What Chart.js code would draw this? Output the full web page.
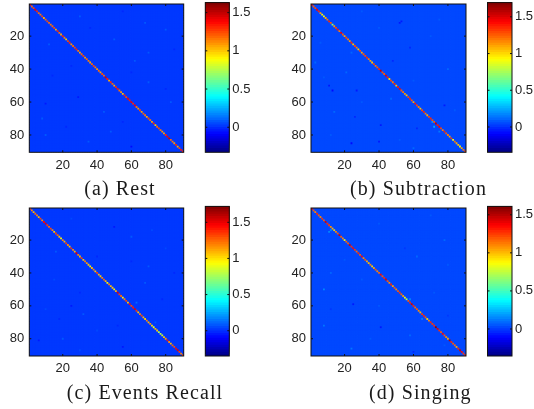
<!DOCTYPE html>
<html>
<head>
<meta charset="utf-8">
<script src="https://cdn.jsdelivr.net/npm/chart.js@4/dist/chart.umd.min.js"></script>
<style>
html, body { margin: 0; padding: 0; background: #fff; }
#page { position: relative; width: 534px; height: 409px; overflow: hidden; }
canvas { position: absolute; filter: blur(0.4px); }
.caption { position: absolute; transform: translate(-50%, -50%); white-space: nowrap;
  font-family: "Liberation Serif", serif; font-size: 20px; letter-spacing: 1.1px; color: #1a1a1a; }
</style>
</head>
<body>
<div id="page"></div>
<script>
var captions = ["(a) Rest", "(b) Subtraction", "(c) Events Recall", "(d) Singing"];
var axisTicks = [20, 40, 60, 80];
var barTicks = [0, 0.5, 1, 1.5];
var barRanges = [[-0.328, 1.631], [-0.345, 1.694], [-0.35, 1.72], [-0.355, 1.61]];
var fieldValues = [0.03, 0.04, 0.03, 0.03];

// diagonal of each matrix
var restDiag = [1.35, 1.2, 1.25, 1.4, 1.3, 1.2, 1.15, 1.25, 1.05, 1.2, 1.25, 1.2, 1.15, 1.2, 1.25, 1.05,
  1.3, 1.2, 1.05, 1.3, 1.15, 1.0, 1.25, 1.3, 1.1, 1.2, 1.25, 1.3, 1.15, 1.05, 1.2, 1.25, 1.1, 1.2, 1.15,
  1.05, 1.2, 1.25, 1.15, 1.1, 1.2, 1.05, 1.25, 1.2, 1.45, 1.35, 1.05, 1.3, 1.2, 1.05, 1.3, 1.35, 1.2, 1.1,
  1.0, 1.3, 1.25, 1.4, 1.35, 1.4, 1.3, 1.4, 1.2, 1.1, 1.25, 1.05, 1.2, 1.15, 1.05, 1.25, 1.15, 1.05, 1.3,
  1.0, 1.2, 1.25, 1.15, 1.1, 1.05, 1.3, 1.4, 1.45, 1.2, 1.15, 1.1, 1.3, 1.05, 1.25, 1.35, 1.3];
var subDiag = [1.4, 1.25, 1.3, 1.45, 1.35, 1.1, 0.95, 0.9, 1.1, 1.2, 1.35, 1.25, 0.7, 1.15, 1.3, 1.4, 1.2,
  1.45, 1.25, 1.1, 1.3, 1.2, 1.15, 1.35, 1.05, 1.3, 1.2, 1.05, 1.3, 1.1, 1.25, 1.3, 1.35, 1.2, 1.1, 1.05,
  1.3, 1.2, 1.25, 1.35, 1.55, 1.3, 1.25, 1.5, 1.4, 1.0, 1.3, 1.2, 1.35, 1.05, 1.4, 1.45, 1.25, 1.2, 1.15,
  1.05, 1.3, 1.35, 1.25, 1.1, 1.4, 1.3, 1.2, 1.05, 1.3, 1.35, 1.2, 1.1, 1.3, 1.35, 1.3, 1.25, 1.55, 1.4,
  1.45, 1.3, 1.2, 1.35, 1.25, 1.2, 1.1, 1.3, 0.95, 1.2, 1.1, 1.05, 0.95, 1.1, 1.2, 1.3];
var recallDiag = [1.3, 1.2, 1.1, 1.25, 1.2, 1.1, 1.3, 1.2, 1.45, 1.5, 1.35, 1.25, 1.3, 1.2, 1.05, 1.3, 1.25,
  1.1, 0.95, 1.2, 1.1, 1.3, 1.2, 1.05, 1.35, 1.2, 1.1, 1.5, 1.2, 1.1, 1.3, 1.05, 1.2, 1.15, 1.05, 0.95, 1.1,
  1.2, 1.05, 1.3, 1.1, 1.05, 1.2, 1.25, 1.1, 0.95, 1.2, 1.1, 1.05, 0.95, 1.1, 1.5, 1.35, 1.25, 0.95, 1.2,
  1.3, 1.05, 1.45, 1.3, 1.4, 1.5, 1.35, 1.05, 1.2, 1.3, 1.1, 1.05, 1.2, 1.1, 1.15, 1.0, 0.9, 1.1, 1.05, 0.8,
  0.8, 0.85, 1.05, 1.15, 1.4, 1.2, 1.1, 1.25, 1.3, 1.45, 1.5, 1.35, 1.2, 1.3];
var singDiag = [1.35, 1.2, 1.1, 1.3, 1.2, 1.1, 1.25, 1.2, 1.45, 1.3, 1.25, 1.1, 1.0, 0.95, 1.1, 1.2, 1.45,
  1.2, 1.1, 0.9, 1.15, 1.2, 1.45, 1.3, 1.35, 1.25, 1.15, 1.3, 1.2, 1.35, 1.1, 1.2, 1.05, 1.0, 1.1, 0.95, 1.05,
  1.2, 1.1, 1.15, 1.35, 1.2, 1.3, 1.4, 1.2, 1.1, 1.3, 1.05, 1.2, 1.1, 1.2, 1.25, 1.15, 1.05, 0.9, 0.75, 1.2,
  1.3, 1.45, 1.3, 1.15, 1.2, 1.1, 1.0, 1.25, 1.3, 1.2, 0.95, 1.1, 1.3, 1.25, 1.3, 1.55, 1.4, 1.3, 1.2, 1.35,
  1.2, 1.1, 1.05, 1.5, 1.3, 1.2, 1.15, 1.05, 1.3, 1.45, 1.35, 1.25, 1.3];

// off-diagonal spots that stand out: [row, col, value]
var restSpots = [[61, 10, -0.05], [57, 29, -0.05], [87, 60, -0.06], [44, 14, -0.01], [75, 22, -0.02], [30, 70, 0.08],
  [12, 68, 0.08], [22, 50, 0.07], [52, 80, -0.02], [66, 44, 0.08], [15, 36, -0.01], [80, 10, 0.08], [35, 62, 0.08],
  [8, 30, 0.07], [5, 55, -0.01], [25, 12, 0.07], [38, 25, -0.01], [48, 70, 0.07], [72, 55, -0.01], [84, 35, 0.08],
  [70, 8, 0.07], [28, 85, -0.01], [60, 83, 0.07], [42, 60, -0.01], [16, 80, 0.07], [78, 48, 0.07]];
var subSpots = [[50, 11, -0.05], [53, 13, -0.06], [85, 24, -0.06], [74, 41, -0.05], [12, 52, -0.05], [11, 53, -0.05],
  [36, 3, 0.11], [72, 71, 0.2], [75, 72, 0.24], [78, 75, 0.16], [58, 47, 0.12], [62, 78, -0.04], [30, 24, 0.11],
  [42, 21, 0.11], [66, 14, 0.11], [88, 60, 0.11], [40, 80, 0.11], [20, 70, 0.1], [84, 40, -0.03], [53, 27, -0.04],
  [5, 30, 0.09], [10, 75, 0.09], [24, 6, 0.1], [27, 58, -0.02], [45, 8, 0.1], [47, 60, 0.1], [60, 30, 0.1],
  [69, 26, -0.02], [80, 12, 0.1], [83, 52, 0.1], [35, 48, -0.02], [65, 84, 0.09], [15, 40, 0.09], [76, 62, -0.02]];
var recallSpots = [[12, 50, -0.05], [60, 25, -0.05], [81, 6, -0.05], [65, 32, 0.08], [36, 70, 0.09], [80, 20, 0.08],
  [27, 16, 0.08], [46, 68, 0.08], [85, 55, -0.04], [70, 74, 0.09], [18, 60, 0.08], [58, 63, 0.12], [30, 40, -0.02],
  [7, 25, 0.07], [44, 15, 0.07], [52, 30, -0.01], [75, 40, 0.07], [62, 10, 0.07], [25, 80, 0.07], [40, 85, -0.01],
  [56, 78, -0.02], [72, 52, -0.01], [87, 30, 0.07], [33, 60, -0.01], [68, 18, -0.01], [14, 72, 0.07]];
var singSpots = [[50, 8, 0.14], [72, 8, 0.11], [86, 24, 0.13], [59, 25, -0.05], [73, 41, -0.06], [88, 60, -0.04],
  [15, 11, 0.15], [14, 12, 0.15], [68, 65, 0.12], [56, 58, 0.15], [30, 62, 0.08], [20, 78, 0.08], [40, 12, 0.08],
  [10, 40, 0.07], [25, 55, -0.01], [35, 80, 0.07], [44, 30, 0.07], [62, 12, -0.01], [80, 35, 0.07], [66, 80, -0.01],
  [78, 58, 0.08], [5, 70, 0.07], [52, 72, 0.07], [60, 40, 0.07], [84, 78, 0.07], [32, 20, 0.07]];

var diagonals = [restDiag, subDiag, recallDiag, singDiag];
var spots = [restSpots, subSpots, recallSpots, singSpots];

// plot rectangles in the window
var layouts = [
  { left: 29.3, top: 2.6, right: 183.7, bottom: 152.3, barL: 205.3, barR: 229.3, capX: 120, capY: 188 },
  { left: 311, top: 2.6, right: 466, bottom: 152.3, barL: 487.5, barR: 512, capX: 418.5, capY: 188 },
  { left: 29.3, top: 206.4, right: 183.7, bottom: 356, barL: 205.3, barR: 229.3, capX: 145, capY: 391.5 },
  { left: 311, top: 206.4, right: 466, bottom: 356, barL: 487.5, barR: 512, capX: 420.3, capY: 391.5 }
];

var tickFont = { family: "'Liberation Sans', Arial, sans-serif", size: 13 };

// MATLAB jet, 64 levels
function jet(t) {
    t = Math.floor(Math.max(0, Math.min(0.9999, t)) * 64) / 64 + 1 / 128;
    function ch(c) { return Math.round(255 * Math.max(0, Math.min(1, 1.5 - Math.abs(4 * t - c)))); }
    return "rgb(" + ch(3) + "," + ch(2) + "," + ch(1) + ")";
}

// frame and inward tick marks like a matlab axes
var framePlugin = {
    id: "frame",
    afterDatasetsDraw: function (chart) {
        var c = chart.ctx, a = chart.chartArea, s = chart.scales;
        c.save();
        c.strokeStyle = "#111";
        c.lineWidth = 1;
        c.strokeRect(a.left, a.top, a.right - a.left, a.bottom - a.top);
        c.beginPath();
        if (s.x.type === "linear") {
            s.x.ticks.forEach(function (t) {
                var p = s.x.getPixelForValue(t.value);
                c.moveTo(p, a.bottom); c.lineTo(p, a.bottom - 2);
                c.moveTo(p, a.top); c.lineTo(p, a.top + 2);
            });
        }
        s.y.ticks.forEach(function (t) {
            var p = s.y.getPixelForValue(t.value);
            c.moveTo(a.left, p); c.lineTo(a.left + 2, p);
            c.moveTo(a.right, p); c.lineTo(a.right - 2, p);
        });
        c.stroke();
        c.restore();
    }
};

function addCanvas(left, top, w, h) {
    var cv = document.createElement("canvas");
    cv.style.left = left + "px";
    cv.style.top = top + "px";
    cv.style.width = w + "px";
    cv.style.height = h + "px";
    cv.width = w;
    cv.height = h;
    document.getElementById("page").appendChild(cv);
    return cv;
}

function setTicks(list) {
    return function (scale) { scale.ticks = list.map(function (v) { return { value: v }; }); };
}

function noMargins(s) {
    s.paddingTop = s.paddingBottom = s.paddingLeft = s.paddingRight = 0;
}

function drawMatrix(i) {
    var lay = layouts[i], range = barRanges[i];
    var toColor = function (v) { return jet((v - range[0]) / (range[1] - range[0])); };
    var rows = [];
    for (var r = 1; r <= 90; r++) rows.push(r);
    var field = [];
    rows.forEach(function (r) { rows.forEach(function (k) { field.push({ x: k, y: r }); }); });
    var spotPts = spots[i].map(function (s) { return { x: s[1], y: s[0] }; });
    var diagPts = diagonals[i].map(function (v, n) { return { x: n + 1, y: n + 1 }; });

    var cellRadius = ((lay.right - lay.left) / 90 + 0.1) * Math.SQRT1_2;
    var left = Math.floor(lay.left) - 29, top = Math.floor(lay.top) - 2;
    var w = 190, h = 178;
    new Chart(addCanvas(left, top, w, h), {
        type: "scatter",
        data: {
            // first dataset is painted last
            datasets: [
                { data: diagPts, backgroundColor: diagonals[i].map(toColor), pointRadius: cellRadius },
                { data: spotPts, backgroundColor: spots[i].map(function (s) { return toColor(s[2]); }), pointRadius: cellRadius },
                { data: field, backgroundColor: toColor(fieldValues[i]), pointRadius: 1.8 }
            ]
        },
        options: {
            responsive: false,
            animation: false,
            devicePixelRatio: 1,
            parsing: false,
            normalized: true,
            layout: { padding: { left: 0, top: lay.top - top, right: left + w - lay.right, bottom: 0 } },
            elements: { point: { pointStyle: "rect", borderWidth: 0 } },
            plugins: { legend: { display: false }, tooltip: { enabled: false } },
            events: [],
            scales: {
                x: {
                    type: "linear", min: 0.5, max: 90.5,
                    afterBuildTicks: setTicks(axisTicks),
                    afterFit: function (s) { s.height = top + h - lay.bottom; noMargins(s); },
                    grid: { display: false, drawTicks: false }, border: { display: false },
                    ticks: { font: tickFont, color: "#222", padding: 5, maxRotation: 0, autoSkip: false }
                },
                y: {
                    type: "linear", min: 0.5, max: 90.5, reverse: true,
                    afterBuildTicks: setTicks(axisTicks),
                    afterFit: function (s) { s.width = lay.left - left; noMargins(s); },
                    grid: { display: false, drawTicks: false }, border: { display: false },
                    ticks: { font: tickFont, color: "#222", padding: 5, autoSkip: false }
                }
            }
        },
        plugins: [framePlugin]
    });
}

function drawColorbar(i) {
    var lay = layouts[i], range = barRanges[i];
    var levels = [];
    for (var n = 63; n >= 0; n--) levels.push(n);
    var left = Math.floor(lay.barL) - 1, top = Math.floor(lay.top) - 2;
    var w = Math.min(534 - left, 60), h = Math.ceil(lay.bottom) + 3 - top;
    new Chart(addCanvas(left, top, w, h), {
        type: "bar",
        data: {
            labels: ["c"],
            // top level listed first so that it is painted over the lower ones
            datasets: levels.map(function (n) {
                return {
                    data: [[range[0] + (range[1] - range[0]) * n / 64, range[1]]],
                    backgroundColor: jet((n + 0.5) / 64),
                    barPercentage: 1,
                    categoryPercentage: 1
                };
            })
        },
        options: {
            responsive: false,
            animation: false,
            devicePixelRatio: 1,
            events: [],
            layout: {
                padding: { left: lay.barL - left, top: lay.top - top, right: 0, bottom: top + h - lay.bottom }
            },
            plugins: { legend: { display: false }, tooltip: { enabled: false } },
            scales: {
                x: { display: false, stacked: true },
                y: {
                    position: "right", min: range[0], max: range[1],
                    afterBuildTicks: setTicks(barTicks),
                    afterFit: function (s) { s.width = left + w - lay.barR; noMargins(s); },
                    grid: { display: false, drawTicks: false }, border: { display: false },
                    ticks: { font: tickFont, color: "#222", padding: 3, autoSkip: false,
                        callback: function (v) { return String(v); } }
                }
            }
        },
        plugins: [framePlugin]
    });
}

captions.forEach(function (text, i) {
    drawMatrix(i);
    drawColorbar(i);
    var d = document.createElement("div");
    d.className = "caption";
    d.textContent = text;
    d.style.left = layouts[i].capX + "px";
    d.style.top = layouts[i].capY + "px";
    document.getElementById("page").appendChild(d);
});
</script>
</body>
</html>
